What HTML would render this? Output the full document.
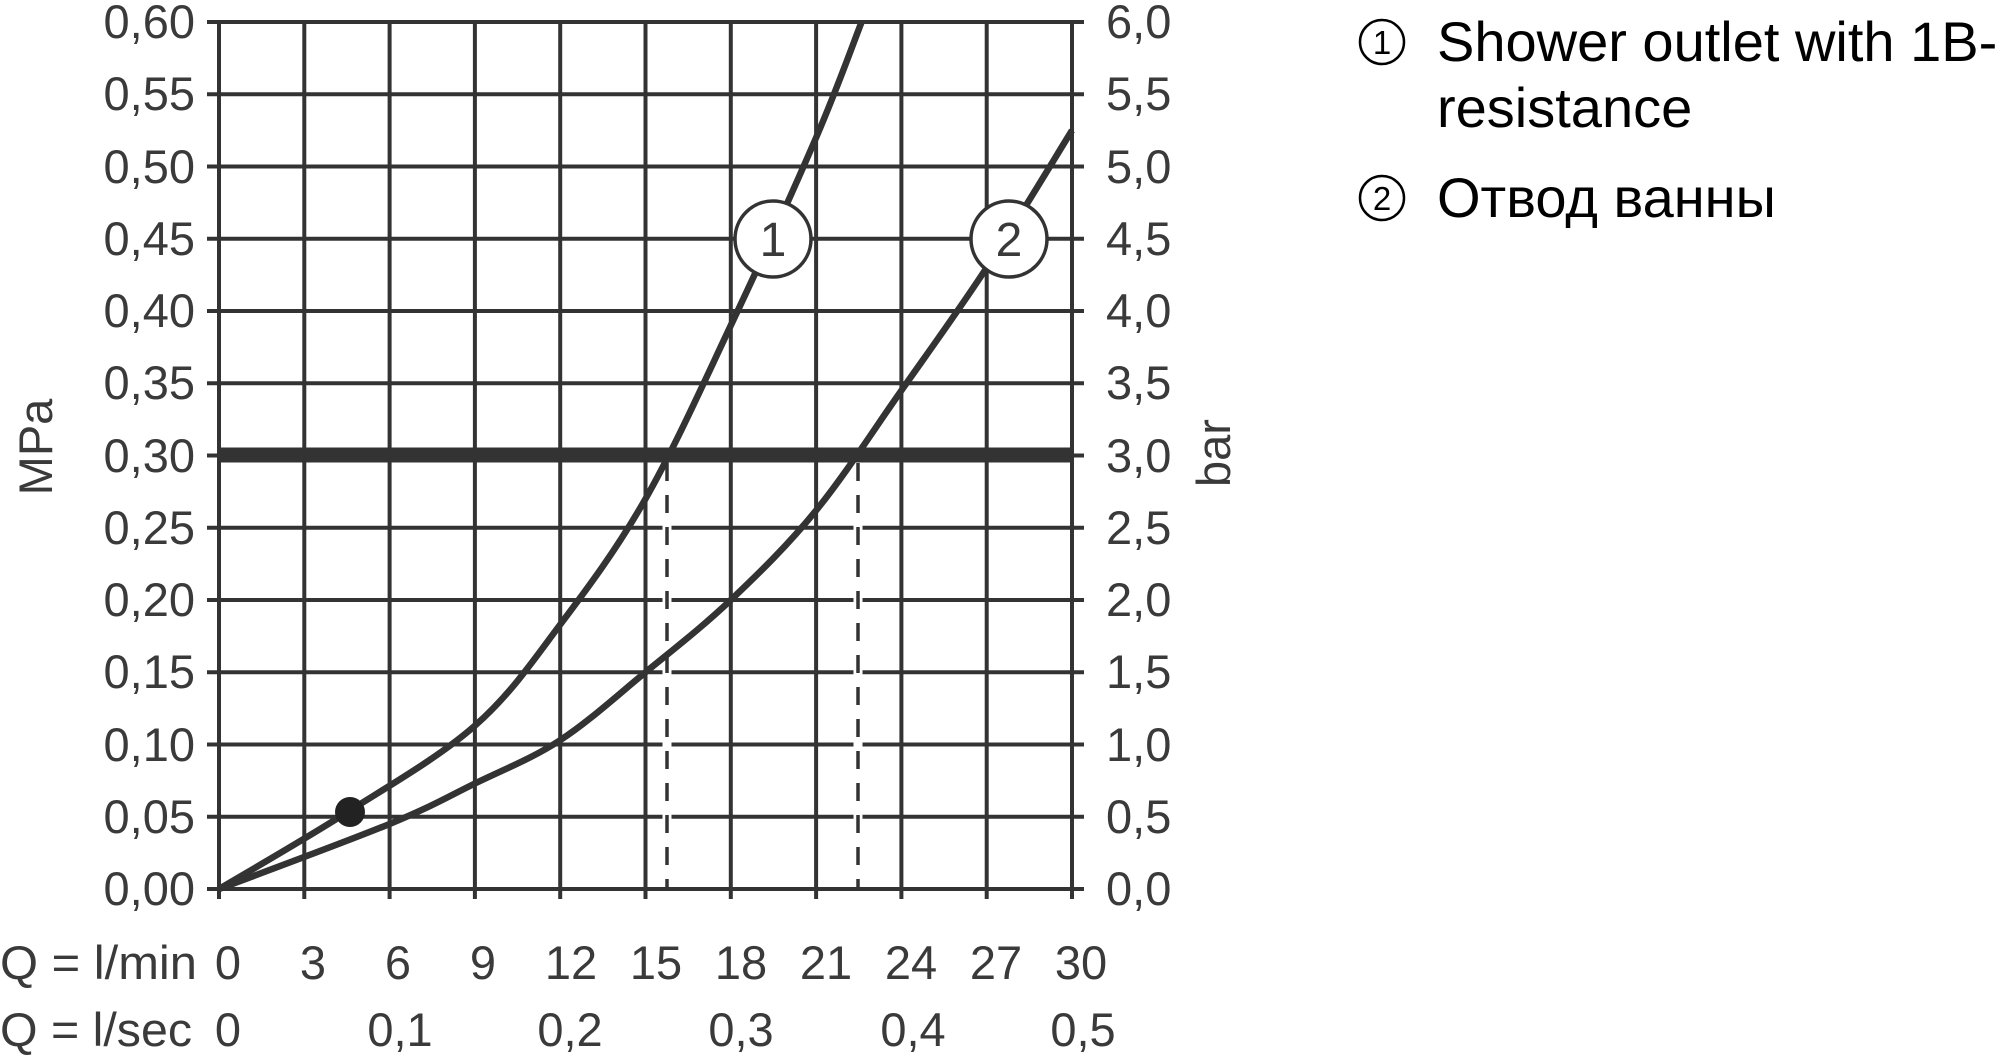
<!DOCTYPE html>
<html><head><meta charset="utf-8"><style>
html,body{margin:0;padding:0;background:#fff;overflow:hidden;}
svg{display:block;}
text{font-family:"Liberation Sans","DejaVu Sans",sans-serif;fill:#3a3a3a;}
.t{font-size:47px;}
.lg{font-family:"Liberation Sans","DejaVu Sans",sans-serif;font-size:56px;fill:#000;}
</style></head><body>
<svg id="s" width="2000" height="1057" viewBox="0 0 2000 1057" xmlns="http://www.w3.org/2000/svg">
<g id="grid" stroke="#333" stroke-width="4"></g>
<line x1="219" y1="455" x2="1072" y2="455" stroke="#333" stroke-width="15"/>
<g stroke="#fff" stroke-width="9"><line x1="667" y1="463" x2="667" y2="886"/><line x1="858" y1="463" x2="858" y2="886"/></g>
<g stroke="#333" stroke-width="3.5" stroke-dasharray="18,14"><line x1="667" y1="463" x2="667" y2="889"/><line x1="858" y1="463" x2="858" y2="889"/></g>
<path id="c1" fill="none" stroke="#333" stroke-width="6.5"/>
<path id="c2" fill="none" stroke="#333" stroke-width="6.5"/>
<circle cx="350" cy="812" r="15" fill="#222"/>
<circle cx="773" cy="239" r="38" fill="#fff" stroke="#333" stroke-width="3.5"/>
<text x="773" y="256" text-anchor="middle" style="font-size:48px">1</text>
<circle cx="1009" cy="239" r="38" fill="#fff" stroke="#333" stroke-width="3.5"/>
<text x="1009" y="256" text-anchor="middle" style="font-size:48px">2</text>
<g class="t" text-anchor="end">
<text x="195" y="38">0,60</text><text x="195" y="110">0,55</text><text x="195" y="183">0,50</text><text x="195" y="255">0,45</text><text x="195" y="327">0,40</text><text x="195" y="399">0,35</text><text x="195" y="472">0,30</text><text x="195" y="544">0,25</text><text x="195" y="616">0,20</text><text x="195" y="688">0,15</text><text x="195" y="761">0,10</text><text x="195" y="833">0,05</text><text x="195" y="905">0,00</text>
</g>
<g class="t">
<text x="1106" y="38">6,0</text><text x="1106" y="110">5,5</text><text x="1106" y="183">5,0</text><text x="1106" y="255">4,5</text><text x="1106" y="327">4,0</text><text x="1106" y="399">3,5</text><text x="1106" y="472">3,0</text><text x="1106" y="544">2,5</text><text x="1106" y="616">2,0</text><text x="1106" y="688">1,5</text><text x="1106" y="761">1,0</text><text x="1106" y="833">0,5</text><text x="1106" y="905">0,0</text>
</g>
<text class="t" transform="translate(52,447) rotate(-90)" text-anchor="middle">MPa</text>
<text class="t" transform="translate(1230,453) rotate(-90)" text-anchor="middle">bar</text>
<g class="t">
<text x="0" y="979" textLength="197" lengthAdjust="spacingAndGlyphs">Q = l/min</text>
<text x="0" y="1046" textLength="192" lengthAdjust="spacingAndGlyphs">Q = l/sec</text>
</g>
<g class="t" text-anchor="middle">
<text x="228" y="979">0</text><text x="313" y="979">3</text><text x="398" y="979">6</text><text x="483" y="979">9</text><text x="571" y="979">12</text><text x="656" y="979">15</text><text x="741" y="979">18</text><text x="826" y="979">21</text><text x="911" y="979">24</text><text x="996" y="979">27</text><text x="1081" y="979">30</text>
<text x="228" y="1046">0</text><text x="400" y="1046">0,1</text><text x="570" y="1046">0,2</text><text x="741" y="1046">0,3</text><text x="913" y="1046">0,4</text><text x="1083" y="1046">0,5</text>
</g>
<circle cx="1382" cy="42" r="22" fill="none" stroke="#000" stroke-width="2.5"/>
<text x="1382" y="54" text-anchor="middle" style="font-size:33px;fill:#000">1</text>
<text class="lg" x="1437" y="61">Shower outlet with 1B-</text>
<text class="lg" x="1437" y="127">resistance</text>
<circle cx="1382" cy="198" r="22" fill="none" stroke="#000" stroke-width="2.5"/>
<text x="1382" y="210" text-anchor="middle" style="font-size:33px;fill:#000">2</text>
<text class="lg" x="1437" y="217">Отвод ванны</text>
</svg>
<script>
var X=function(v){return 219+v*(853/30);},Y=function(p){return 889-p*(867/0.6);};
var g=document.getElementById('grid'),h='';
for(var i=0;i<=10;i++){var x=X(i*3);h+='<line x1="'+x+'" y1="22" x2="'+x+'" y2="899"/>';}
for(var j=0;j<=12;j++){var y=Y(j*0.05);h+='<line x1="207" y1="'+y+'" x2="1084" y2="'+y+'"/>';}
g.innerHTML=h;
function path(pts){var p=pts.map(function(a){return [X(a[0]),Y(a[1])];});var d='M'+p[0][0]+','+p[0][1];
for(var i=0;i<p.length-1;i++){var p0=p[i-1]||p[i],p1=p[i],p2=p[i+1],p3=p[i+2]||p2;
d+=' C'+(p1[0]+(p2[0]-p0[0])/6)+','+(p1[1]+(p2[1]-p0[1])/6)+' '+(p2[0]-(p3[0]-p1[0])/6)+','+(p2[1]-(p3[1]-p1[1])/6)+' '+p2[0]+','+p2[1];}return d;}
document.getElementById('c1').setAttribute('d',path([[0,0],[4.5,0.053],[9,0.113],[12,0.183],[15,0.27],[18,0.39],[21,0.52],[22.6,0.60]]));
document.getElementById('c2').setAttribute('d',path([[0,0],[6,0.045],[9,0.073],[12,0.103],[15,0.15],[18,0.20],[21,0.262],[24,0.345],[27,0.43],[30,0.525]]));
</script>
</body></html>
